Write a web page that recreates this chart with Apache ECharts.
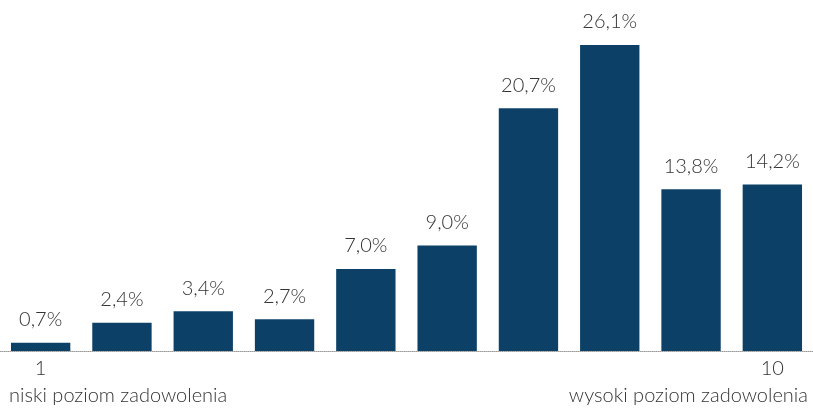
<!DOCTYPE html>
<html><head><meta charset="utf-8">
<script src="https://cdn.jsdelivr.net/npm/echarts@6/dist/echarts.min.js"></script>
<style>html,body{margin:0;padding:0;background:#fff}#c{width:813px;height:408px}</style>
</head><body><div id="c"></div>
<script>
const categories = ['1','2','3','4','5','6','7','8','9','10'];
const values = [0.7, 2.4, 3.4, 2.7, 7.0, 9.0, 20.7, 26.1, 13.8, 14.2];
const leftCaption = 'niski poziom zadowolenia';
const rightCaption = 'wysoki poziom zadowolenia';
const FONT = 'Lato';
const chart = echarts.init(document.getElementById('c'));
chart.setOption({
  animation: false,
  title: [
    {text: leftCaption, left: 9, top: 386, padding: 0, textStyle: {fontFamily: FONT, fontWeight: 300, fontSize: 20, color: '#333'}},
    {text: rightCaption, right: 5, top: 386, padding: 0, textStyle: {fontFamily: FONT, fontWeight: 300, fontSize: 20, color: '#333'}}
  ],
  grid: {left: 0, right: 0, top: 45, bottom: 57, containLabel: false},
  xAxis: {
    type: 'category', data: categories,
    axisLine: {lineStyle: {color: '#999', type: 'dotted', width: 1}},
    axisTick: {show: false},
    axisLabel: {
      interval: 0, margin: 8, fontFamily: FONT, fontWeight: 300, fontSize: 20, color: '#333',
      formatter: (v, i) => (i === 0 || i === categories.length - 1) ? v : ''
    }
  },
  yAxis: {type: 'value', min: 0, max: 26.1, show: false, splitLine: {show: false}},
  series: [{
    type: 'bar', data: values, barCategoryGap: '27%',
    itemStyle: {color: '#0c4066'},
    label: {
      show: true, position: 'top', distance: 13,
      fontFamily: FONT, fontWeight: 300, fontSize: 20, color: '#333',
      formatter: p => p.value.toFixed(1).replace('.', ',') + '%'
    }
  }]
});
</script></body></html>
